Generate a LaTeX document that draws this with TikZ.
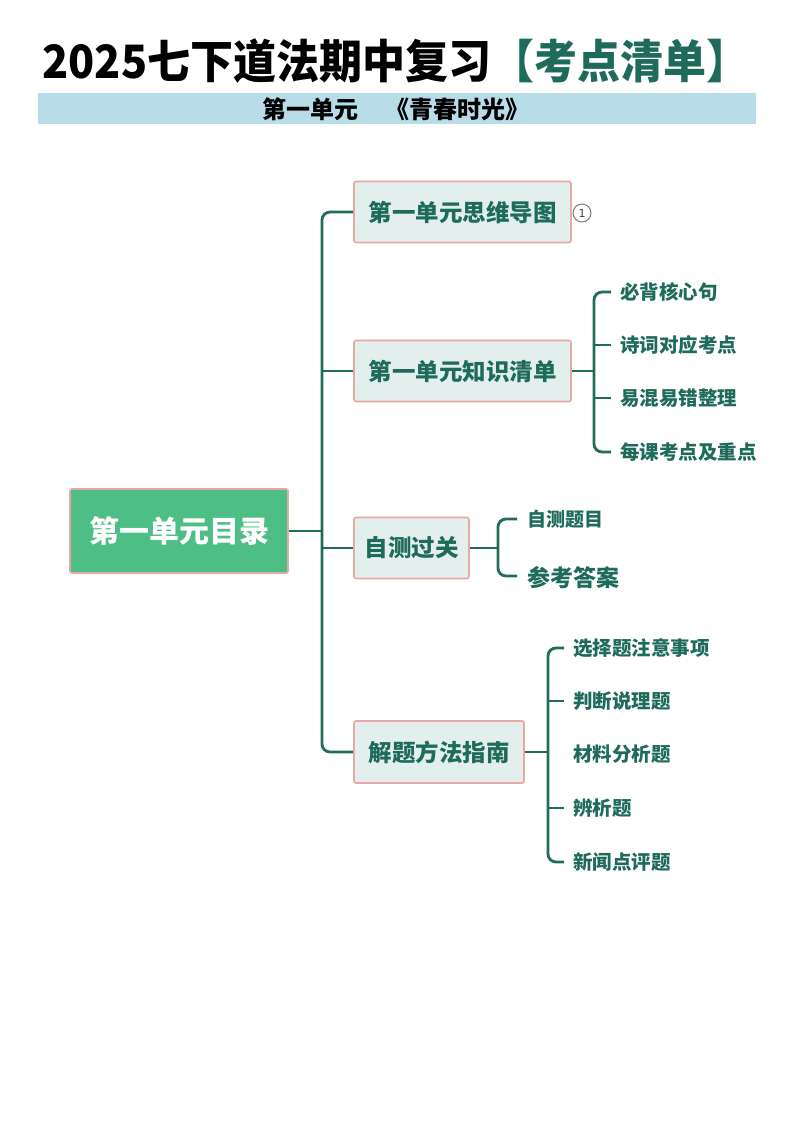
\documentclass[tikz,border=0pt]{standalone}
\usepackage{fontspec}
\setmainfont{Noto Sans CJK SC}
\newfontfamily\cjk{Noto Sans CJK SC}
\newfontfamily\numfont{DejaVu Sans}
\definecolor{teal1}{HTML}{1F6B5B}
\definecolor{line1}{HTML}{226C5C}
\definecolor{rootg}{HTML}{4DBE86}
\definecolor{boxf}{HTML}{E3EFEC}
\definecolor{boxd}{HTML}{E8A8A4}
\definecolor{banner}{HTML}{B8DDE8}
\tikzset{
  branchbox/.style={draw=boxd, line width=1.6pt, fill=boxf, rounded corners=2pt, inner sep=0pt, font=\cjk\bfseries\fontsize{23.5}{26}\selectfont, text=teal1},
  leaf/.style={inner sep=0pt, anchor=west, font=\cjk\bfseries\fontsize{19.5}{22}\selectfont, text=teal1},
  conn/.style={draw=line1, line width=2.8pt, rounded corners=8pt},
}
\begin{document}
\begin{tikzpicture}[x=1pt,y=-1pt]
\useasboundingbox (0,0) rectangle (793,1122);
\fill[white] (0,0) rectangle (793,1122);
% title
\node[inner sep=0pt, font=\cjk\bfseries\fontsize{46}{50}\selectfont] (title) at (396,61)
  {\scalebox{0.935}[1]{2025七下道法期中复习\textcolor{teal1}{【考点清单】}}};
\fill[banner] (38,93) rectangle (756,124);
\node[inner sep=0pt, font=\cjk\bfseries\fontsize{24}{26}\selectfont] (sub) at (396,109) {第一单元\hspace{1.13em}《青春时光》};
% root
\node[draw=boxd, line width=1.6pt, fill=rootg, rounded corners=2pt, minimum width=218pt, minimum height=84pt, text=white, font=\cjk\bfseries\fontsize{30}{32}\selectfont] (root) at (179,531) {第一单元目录};
% branches
\node[branchbox, minimum width=217pt, minimum height=61pt] (b1) at (462.5,212) {第一单元思维导图};
\node[branchbox, minimum width=217pt, minimum height=61pt] (b2) at (462.5,371) {第一单元知识清单};
\node[branchbox, minimum width=115pt, minimum height=61pt] (b3) at (411.5,548) {自测过关};
\node[branchbox, minimum width=170pt, minimum height=62pt] (b4) at (439,752) {解题方法指南};
\node[draw=black!55, circle, line width=0.9pt, minimum size=18pt, inner sep=0pt, font=\numfont\fontsize{11}{12}\selectfont, text=black!75] (c1) at (582,213) {1};
% trunk
\coordinate (t0) at (322,531);
\draw[conn] (b1.west) -- (322,212) -- (322,752) -- (b4.west);
\draw[conn, rounded corners=0pt] (root.east) -- (t0);
\draw[conn, rounded corners=0pt] (322,371) -- (b2.west);
\draw[conn, rounded corners=0pt] (322,548) -- (b3.west);
% leaves group 2
\node[leaf] (k1) at (620,292) {必背核心句};
\node[leaf] (k2) at (620,345) {诗词对应考点};
\node[leaf] (k3) at (620,398) {易混易错整理};
\node[leaf] (k4) at (620,452) {每课考点及重点};
\coordinate (k0) at (594,371);
\draw[conn, rounded corners=0pt] (b2.east) -- (k0);
\draw[conn] ([xshift=-9pt]k1.west) -- (594,292) -- (594,452) -- ([xshift=-9pt]k4.west);
\draw[conn] (594,345) -- ([xshift=-9pt]k2.west);
\draw[conn] (594,398) -- ([xshift=-9pt]k3.west);
% leaves group 3
\node[leaf, font=\cjk\bfseries\fontsize{19}{21}\selectfont] (z1) at (527,519) {自测题目};
\node[leaf, font=\cjk\bfseries\fontsize{23}{25}\selectfont] (z2) at (527,578) {参考答案};
\coordinate (z0) at (498,548);
\draw[conn, rounded corners=0pt] (b3.east) -- (z0);
\draw[conn] ([xshift=-10pt]z1.west) -- (498,519) -- (498,576) -- ([xshift=-10pt]z2.west |- 0,576);
% leaves group 4
\node[leaf] (j1) at (573,648) {选择题注意事项};
\node[leaf] (j2) at (573,701) {判断说理题};
\node[leaf] (j3) at (573,754) {材料分析题};
\node[leaf] (j4) at (573,808) {辨析题};
\node[leaf] (j5) at (573,862) {新闻点评题};
\coordinate (j0) at (548,752);
\draw[conn, rounded corners=0pt] (b4.east) -- (j0);
\draw[conn] ([xshift=-9pt]j1.west) -- (548,648) -- (548,862) -- ([xshift=-9pt]j5.west);
\draw[conn] (548,701) -- ([xshift=-9pt]j2.west);
\draw[conn] (548,808) -- ([xshift=-9pt]j4.west);
\end{tikzpicture}
\end{document}
